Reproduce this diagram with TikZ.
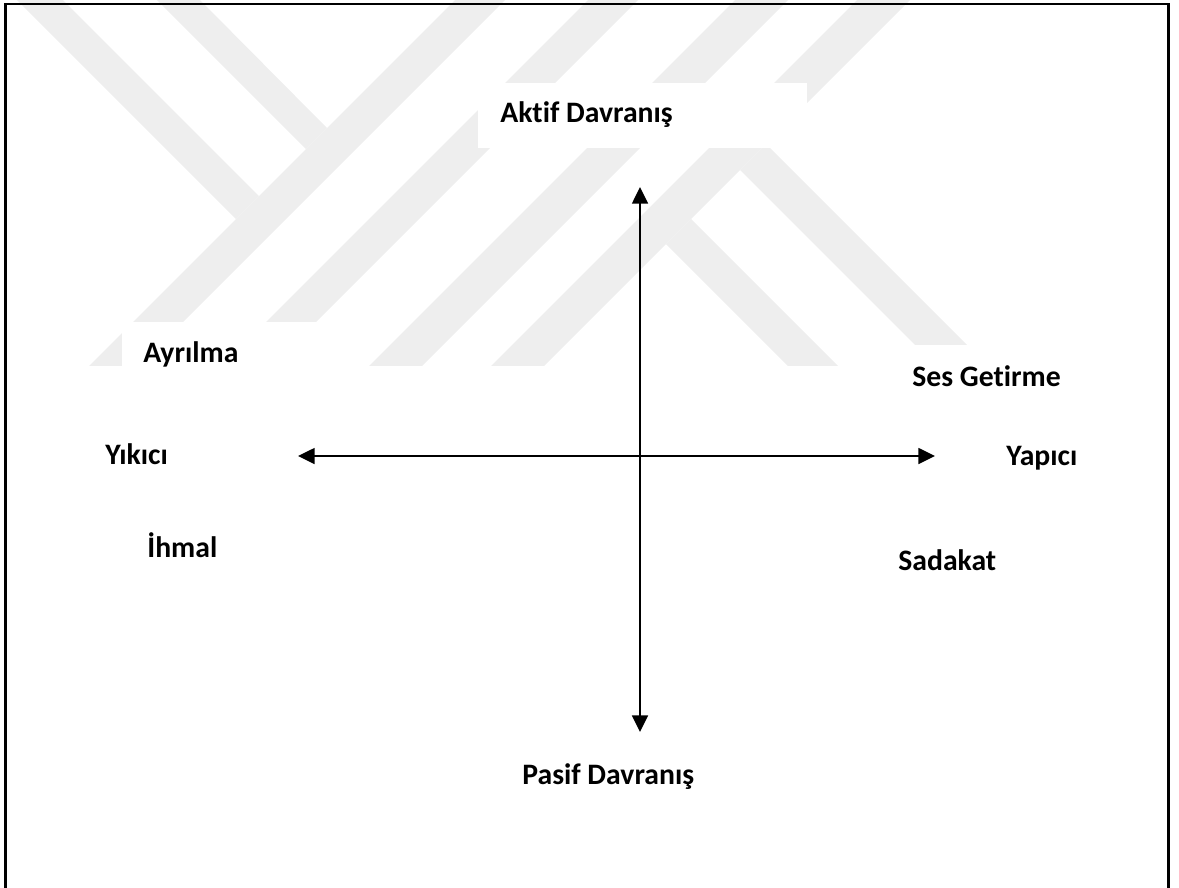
\documentclass[tikz,border=0pt]{standalone}
\usepackage{fontspec}
\setmainfont{Carlito}[Ligatures=NoCommon]
\usetikzlibrary{arrows.meta}
\definecolor{wmgray}{RGB}{238,238,238}

\begin{document}
\begin{tikzpicture}[x=0.02cm, y=-0.02cm,
    lbl/.style={font=\fontsize{16.9}{20}\selectfont\bfseries, anchor=base west, inner sep=0pt},
    axis/.style={line width=1.3pt, {Triangle[width=9pt,length=9.5pt]}-{Triangle[width=9pt,length=9.5pt]}}]
    \useasboundingbox (0,0) rectangle (1179,887);

    % Watermark stripes
    \begin{scope}
        \clip (0,0) rectangle (1179,365);
        \fill[wmgray] (17,0) -- (63,0) -- (259,196) -- (236,219) -- cycle;
        \fill[wmgray] (157,0) -- (200,0) -- (327,128) -- (306,149) -- cycle;
        \fill[wmgray] (455,0) -- (505,0) -- (105,400) -- (55,400) -- cycle;
        \fill[wmgray] (588,0) -- (638,0) -- (238,400) -- (188,400) -- cycle;
        \fill[wmgray] (735,0) -- (788,0) -- (388,400) -- (335,400) -- cycle;
        \fill[wmgray] (857,0) -- (910,0) -- (510,400) -- (457,400) -- cycle;
        \fill[wmgray] (666,244) -- (691,219) -- (872,400) -- (822,400) -- cycle;
        \fill[wmgray] (740,170) -- (766,144) -- (1022,400) -- (970,400) -- cycle;
    \end{scope}

    % Text boxes over the watermark
    \fill[white] (478,83) rectangle (807,148);
    \fill[white] (122,322) rectangle (369,400);
    \fill[white] (880,345) rectangle (1100,400);

    % Frame
    \draw[line width=1.5pt] (5.5,4) rectangle (1168.5,900);

    % Axes
    \coordinate (top) at (640,187);
    \coordinate (bottom) at (640,732);
    \coordinate (west) at (298,456);
    \coordinate (east) at (935,456);
    \draw[axis] (top) -- (bottom);
    \draw[axis] (west) -- (east);

    % Labels
    \node[lbl] (aktif) at (500,122) {Aktif Davranış};
    \node[lbl] (pasif) at (522,784) {Pasif Davranış};
    \node[lbl] (yikici) at (105,464) {Yıkıcı};
    \node[lbl] (yapici) at (1006,465) {Yapıcı};
    \node[lbl] (ayrilma) at (143,362) {Ayrılma};
    \node[lbl] (ihmal) at (147,557) {İhmal};
    \node[lbl] (ses) at (912,386) {Ses Getirme};
    \node[lbl] (sadakat) at (898,570) {Sadakat};
\end{tikzpicture}
\end{document}
